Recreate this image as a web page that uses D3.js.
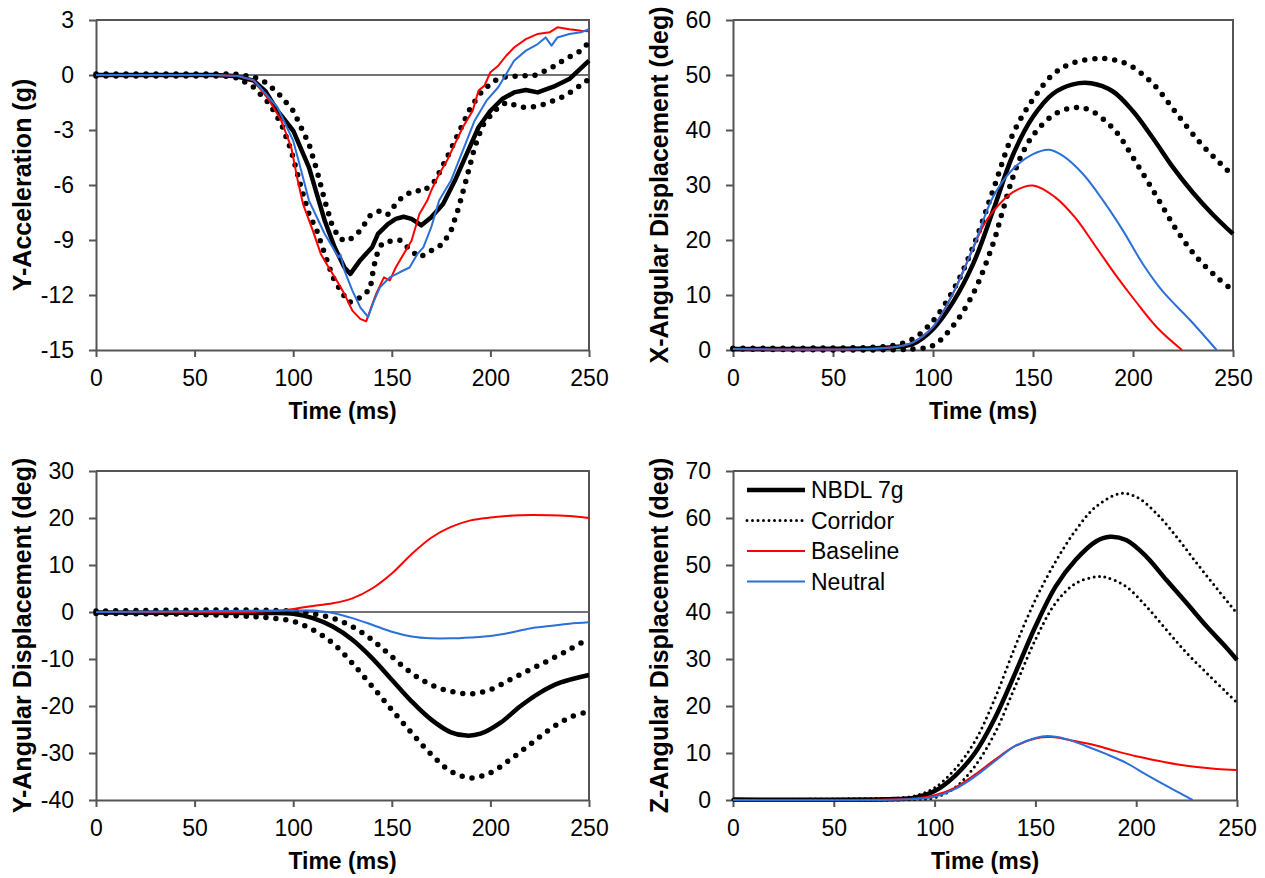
<!DOCTYPE html>
<html>
<head>
<meta charset="utf-8">
<script src="https://cdn.jsdelivr.net/npm/d3@7"></script>
<style>
  body { margin: 0; background: #ffffff; }
  svg text { font-family: Arial, "Liberation Sans", sans-serif; fill: #000; }
</style>
</head>
<body>
<svg id="fig" width="1265" height="878"></svg>
<script>
// ---- Data: [time (ms), value] pairs ----
const timeTicks = [0, 50, 100, 150, 200, 250];

// Y-Acceleration (g)
const accTicks = [-15, -12, -9, -6, -3, 0, 3];
const accNbdl = [[0,0],[60,0],[70,-0.05],[80,-0.31],[86,-0.9],[92,-1.95],[100,-3.04],[108,-5.04],[112,-6.5],[116,-7.95],[121,-9.4],[126,-10.5],[129,-10.85],[134,-10.1],[140,-9.4],[143,-8.67],[148,-8.13],[152,-7.85],[156,-7.73],[160,-7.85],[165,-8.2],[170,-7.76],[176,-7.04],[182,-5.76],[188,-4.3],[194,-2.85],[200,-1.95],[206,-1.31],[212,-0.95],[218,-0.82],[224,-0.95],[232,-0.64],[240,-0.22],[250,0.78]];
const accUpper = [[0,0.05],[70,0.05],[80,-0.1],[86,-0.4],[92,-0.95],[100,-1.95],[108,-3.76],[112,-5.2],[116,-6.85],[120,-8.3],[124,-8.95],[128,-9.05],[134,-8.5],[139,-7.67],[144,-7.4],[148,-7.6],[152,-7.04],[156,-6.58],[162,-6.3],[166,-6.35],[172,-5.76],[178,-4.5],[184,-3.13],[190,-1.76],[196,-0.85],[202,-0.31],[208,-0.09],[216,-0.04],[222,-0.04],[230,0.33],[238,0.87],[246,1.33],[250,1.78]];
const accLower = [[0,-0.05],[65,-0.05],[72,-0.16],[80,-0.67],[88,-1.58],[94,-2.67],[99,-4.13],[104,-6.13],[108,-7.58],[112,-8.5],[116,-9.76],[120,-11.0],[124,-11.76],[128,-12.4],[132,-12.3],[136,-11.95],[139,-11.7],[140.5,-10.7],[142,-9.9],[145,-9.2],[150,-9.04],[154,-9.0],[160,-9.6],[164,-9.95],[170,-9.58],[176,-9.2],[180,-8.5],[184,-7.2],[188,-5.6],[192,-3.95],[196,-2.76],[202,-1.95],[208,-1.49],[216,-1.76],[222,-1.73],[228,-1.58],[236,-1.22],[242,-0.85],[250,-0.22]];
const accBaseline = [[0,0],[60,0],[72,-0.05],[80,-0.3],[88,-1.4],[94,-2.5],[99,-3.95],[102,-5.6],[105,-7.04],[110,-8.5],[114,-9.76],[118,-10.5],[122,-11.2],[126,-11.95],[130,-12.85],[134,-13.3],[137,-13.44],[139,-12.85],[142,-11.95],[146,-11.04],[149,-11.2],[152,-10.5],[156,-9.76],[160,-9.04],[164,-7.58],[168,-6.85],[170,-6.3],[174,-5.4],[178,-4.67],[182,-3.76],[186,-2.85],[191,-1.95],[194,-0.85],[197,-0.58],[200,0.15],[204,0.51],[208,1.05],[212,1.5],[218,1.96],[224,2.24],[230,2.33],[234,2.6],[240,2.5],[246,2.42],[250,2.38]];
const accNeutral = [[0,0],[60,0],[72,-0.05],[80,-0.28],[92,-1.76],[100,-3.58],[104,-5.2],[108,-6.85],[112,-7.76],[116,-8.67],[120,-9.4],[123,-9.95],[124,-9.8],[126,-10.67],[130,-11.76],[134,-12.67],[138,-13.2],[141,-12.3],[144,-11.58],[149,-11.04],[154,-10.76],[159,-10.5],[163,-9.76],[166,-9.4],[170,-8.3],[174,-6.85],[180,-5.76],[186,-4.13],[192,-2.49],[198,-1.4],[204,-0.67],[208,0.05],[212,0.78],[218,1.33],[224,1.69],[228,2.05],[231,1.6],[234,2.05],[240,2.24],[246,2.33],[250,2.5]];

// X-Angular Displacement (deg)
const xAngTicks = [0, 10, 20, 30, 40, 50, 60];
const xAngNbdl = [[0,0.2],[70,0.3],[80,0.5],[90,1.1],[100,3.8],[110,8.7],[120,15.6],[130,25.3],[140,35.5],[150,42.4],[160,46.6],[170,48.3],[179,48.5],[190,47],[200,43.4],[210,38.5],[220,33.2],[230,28.6],[240,24.6],[250,21.1]];
const xAngUpper = [[0,0.3],[60,0.4],[70,0.5],[80,0.8],[90,2],[100,5.3],[110,10.8],[120,18.7],[130,29],[140,39.3],[150,45.6],[160,50.1],[170,52.2],[185,53],[197,52],[210,48.4],[222,42.9],[234,37.5],[244,33.8],[250,31.7]];
const xAngLower = [[0,0.2],[90,0.2],[100,0.8],[110,4.4],[120,10.2],[130,19.3],[135,25.5],[140,31.5],[145,36],[151,39.5],[161,42.9],[171,44.1],[179,43.5],[191,39.9],[201,34.4],[212,27.8],[222,21.7],[232,16.8],[242,13.2],[250,10.8]];
const xAngBaseline = [[0,0.2],[80,0.5],[90,1.4],[100,4.2],[110,10.3],[120,18.5],[125,22.5],[130,25.2],[140,28.7],[150,29.9],[161,27.8],[171,24.1],[181,19],[191,13.8],[201,9],[212,4.1],[224.5,0]];
const xAngNeutral = [[0,0.2],[80,0.5],[90,1.4],[100,4.2],[110,10.3],[120,18.5],[130,27.8],[140,32.9],[150,35.6],[158,36.4],[165,35.3],[175,32],[185,27.2],[195,21.7],[205,15.6],[215,10.6],[228.5,5.45],[241.8,0]];

// Y-Angular Displacement (deg)
const yAngTicks = [-40, -30, -20, -10, 0, 10, 20, 30];
const yAngNbdl = [[0,-0.1],[80,-0.2],[90,-0.2],[100,-0.4],[110,-1.3],[120,-3.1],[130,-5.9],[140,-9.8],[150,-14.4],[160,-19.0],[170,-22.9],[180,-25.6],[188,-26.3],[195,-25.9],[205,-23.6],[215,-20.1],[225,-17.2],[235,-15.1],[250,-13.4]];
const yAngUpper = [[0,0.2],[100,0.2],[110,-0.4],[120,-1.3],[130,-3.1],[140,-5.9],[150,-9.5],[160,-13.0],[170,-15.5],[180,-16.9],[190,-17.4],[200,-16.5],[210,-14.4],[220,-12.3],[230,-10.2],[240,-8.0],[250,-5.6]];
const yAngLower = [[0,-0.3],[50,-0.5],[80,-1.0],[90,-1.3],[100,-2.0],[110,-3.8],[120,-6.6],[130,-10.9],[140,-15.8],[150,-20.8],[160,-25.7],[170,-30.3],[180,-33.9],[190,-35.3],[200,-34.2],[210,-31.4],[220,-28.2],[230,-25.0],[240,-22.5],[250,-21.1]];
const yAngBaseline = [[0,0],[90,0.2],[100,0.65],[110,1.3],[120,1.85],[130,2.9],[140,5.0],[150,8.2],[160,12.3],[170,15.8],[180,18.1],[190,19.5],[200,20.1],[215,20.6],[230,20.6],[240,20.4],[250,20.0]];
const yAngNeutral = [[0,0],[100,0.3],[110,0.3],[115,0.1],[120,-0.2],[130,-1.3],[140,-2.7],[150,-4.2],[160,-5.2],[170,-5.6],[180,-5.6],[190,-5.4],[200,-5.1],[210,-4.4],[220,-3.5],[230,-3.0],[240,-2.5],[250,-2.2]];

// Z-Angular Displacement (deg)
const zAngTicks = [0, 10, 20, 30, 40, 50, 60, 70];
const zAngNbdl = [[0,0.1],[80,0.2],[90,0.5],[100,1.9],[110,5.1],[120,10],[130,17.5],[140,27],[150,36.9],[160,45.4],[170,51.1],[180,55],[187,56],[195,55.3],[205,51.8],[215,46.8],[225,41.9],[235,36.9],[245,32.3],[250,29.8]];
const zAngUpper = [[0,0.1],[70,0.3],[80,0.4],[90,0.85],[100,2.6],[110,6.5],[120,12.5],[130,21.7],[140,32.7],[150,42.6],[160,50.7],[170,57.4],[180,62.4],[192,65.2],[200,64.5],[210,61],[220,56],[230,50.4],[240,45],[250,39.7]];
const zAngLower = [[0,0.1],[90,0.1],[100,0.5],[110,2.6],[120,7.2],[130,14.3],[140,24.2],[150,34.1],[160,41.9],[170,46.1],[180,47.5],[185,47.4],[195,45.4],[205,41.2],[215,36.2],[225,31.3],[235,27],[245,22.8],[250,20.7]];
const zAngBaseline = [[0,0],[90,0.3],[100,1.0],[110,2.6],[120,5.4],[130,8.6],[140,11.5],[150,13.1],[158,13.4],[170,12.5],[180,11.6],[190,10.4],[200,9.3],[210,8.4],[220,7.6],[230,7.0],[240,6.6],[250,6.4]];
const zAngNeutral = [[0,0],[90,0.2],[100,0.7],[110,2.3],[120,5.0],[130,8.3],[140,11.5],[150,13.2],[156,13.6],[165,13.0],[175,11.5],[185,9.8],[195,7.9],[205,5.4],[215,3.0],[225,0.7],[228,0]];

const legendLabels = ["NBDL 7g", "Corridor", "Baseline", "Neutral"];

// ---- Styles ----
const RED = "#ff0000";
const BLUE = "#2b70d8";
const AXIS = "#555555";
const dotsBig = { width: 5.5, dash: "0 10" };
const dotsSmall = { width: 3, dash: "0 5.5" };
const smooth = d3.curveCatmullRom.alpha(0.5);

const svg = d3.select("#fig");

const panels = [
  { box: { l: 96, r: 589, t: 20, b: 350 }, ticks: accTicks, title: "Y-Acceleration (g)", titleX: 22,
    zero: true, dots: dotsBig, curve: d3.curveLinear,
    nbdl: accNbdl, upper: accUpper, lower: accLower, base: accBaseline, neutral: accNeutral },
  { box: { l: 733, r: 1233, t: 20, b: 350 }, ticks: xAngTicks, title: "X-Angular Displacement (deg)", titleX: 659,
    zero: false, dots: dotsBig, curve: smooth,
    nbdl: xAngNbdl, upper: xAngUpper, lower: xAngLower, base: xAngBaseline, neutral: xAngNeutral },
  { box: { l: 96, r: 589, t: 471, b: 800 }, ticks: yAngTicks, title: "Y-Angular Displacement (deg)", titleX: 22,
    zero: true, dots: dotsBig, curve: smooth,
    nbdl: yAngNbdl, upper: yAngUpper, lower: yAngLower, base: yAngBaseline, neutral: yAngNeutral },
  { box: { l: 733, r: 1237, t: 471, b: 800 }, ticks: zAngTicks, title: "Z-Angular Displacement (deg)", titleX: 659,
    zero: false, dots: dotsSmall, curve: smooth, legend: true,
    nbdl: zAngNbdl, upper: zAngUpper, lower: zAngLower, base: zAngBaseline, neutral: zAngNeutral }
];

panels.forEach(p => {
  const b = p.box;
  const x = d3.scaleLinear().domain([0, 250]).range([b.l, b.r]);
  const y = d3.scaleLinear().domain(d3.extent(p.ticks)).range([b.b, b.t]);
  const g = svg.append("g");

  // zero reference line
  if (p.zero) {
    g.append("line")
      .attr("x1", b.l).attr("x2", b.r)
      .attr("y1", y(0)).attr("y2", y(0))
      .attr("stroke", "#444").attr("stroke-width", 1.5);
  }

  // plot frame (top and right edges)
  g.append("path")
    .attr("d", `M${b.l},${b.t}H${b.r}V${b.b}`)
    .attr("fill", "none").attr("stroke", AXIS).attr("stroke-width", 2);

  // axes
  const xAxis = g.append("g").attr("transform", `translate(0,${b.b})`)
    .call(d3.axisBottom(x).tickValues(timeTicks).tickSize(7).tickSizeOuter(0).tickPadding(13).tickFormat(d => String(d)));
  const yAxis = g.append("g").attr("transform", `translate(${b.l},0)`)
    .call(d3.axisLeft(y).tickValues(p.ticks).tickSize(7).tickSizeOuter(0).tickPadding(15).tickFormat(d => String(d)));
  [xAxis, yAxis].forEach(a => {
    a.select(".domain").attr("stroke", AXIS).attr("stroke-width", 2);
    a.selectAll(".tick line").attr("stroke", AXIS).attr("stroke-width", 2);
    a.selectAll(".tick text").attr("font-size", 23).attr("fill", "#000")
      .style("font-family", 'Arial, "Liberation Sans", sans-serif');
  });

  // axis titles
  g.append("text")
    .attr("x", (b.l + b.r) / 2).attr("y", b.b + 69)
    .attr("text-anchor", "middle")
    .attr("font-size", 23).attr("font-weight", "bold")
    .text("Time (ms)");
  g.append("text")
    .attr("transform", `translate(${p.titleX},${(b.t + b.b) / 2}) rotate(-90)`)
    .attr("text-anchor", "middle").attr("dominant-baseline", "central")
    .attr("font-size", 25).attr("font-weight", "bold")
    .text(p.title);

  const line = d3.line().x(d => x(d[0])).y(d => y(d[1])).curve(p.curve);

  g.append("path").datum(p.nbdl).attr("d", line)
    .attr("fill", "none").attr("stroke", "#000").attr("stroke-width", 4.5)
    .attr("stroke-linejoin", "round");
  [p.upper, p.lower].forEach(s => {
    g.append("path").datum(s).attr("d", line)
      .attr("fill", "none").attr("stroke", "#000")
      .attr("stroke-width", p.dots.width)
      .attr("stroke-dasharray", p.dots.dash)
      .attr("stroke-linecap", "round");
  });
  g.append("path").datum(p.base).attr("d", line)
    .attr("fill", "none").attr("stroke", RED).attr("stroke-width", 2)
    .attr("stroke-linejoin", "round");
  g.append("path").datum(p.neutral).attr("d", line)
    .attr("fill", "none").attr("stroke", BLUE).attr("stroke-width", 2)
    .attr("stroke-linejoin", "round");

  // legend
  if (p.legend) {
    const styles = [
      { stroke: "#000", width: 4.5 },
      { stroke: "#000", width: dotsSmall.width, dash: dotsSmall.dash, cap: "round" },
      { stroke: RED, width: 2 },
      { stroke: BLUE, width: 2 }
    ];
    const lg = g.append("g");
    legendLabels.forEach((label, i) => {
      const cy = 490 + i * 30.5;
      const s = styles[i];
      lg.append("line")
        .attr("x1", 747).attr("x2", 805).attr("y1", cy).attr("y2", cy)
        .attr("stroke", s.stroke).attr("stroke-width", s.width)
        .attr("stroke-dasharray", s.dash || null)
        .attr("stroke-linecap", s.cap || "butt");
      lg.append("text")
        .attr("x", 811).attr("y", cy).attr("dominant-baseline", "central")
        .attr("font-size", 23).text(label);
    });
  }
});
</script>
</body>
</html>
